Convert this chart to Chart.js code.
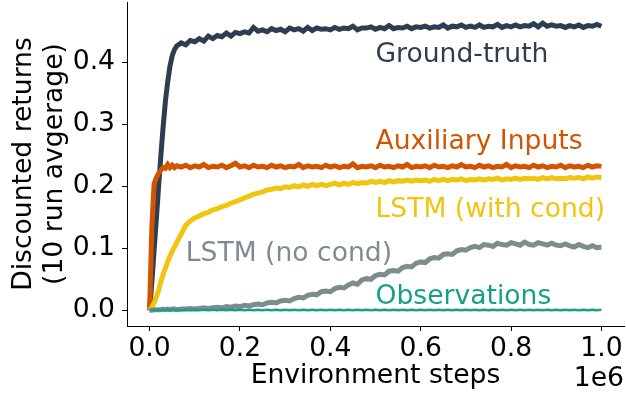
<!DOCTYPE html>
<html>
<head>
<meta charset="utf-8">
<script src="https://cdn.jsdelivr.net/npm/chart.js@4.4.0/dist/chart.umd.min.js"></script>
<style>
  html, body { margin: 0; padding: 0; background: #fff; }
  canvas { display: block; }
</style>
</head>
<body>
<canvas id="returnsChart" width="626" height="398"></canvas>
<script>
// Environment steps, in thousands
const stepsK = [
    0, 5, 10, 15, 20, 25, 30, 35, 40, 45, 50, 55, 60,
    70, 80, 90, 100, 110, 120, 130, 140, 150, 160, 170, 180, 190, 200,
    210, 220, 230, 240, 250, 260, 270, 280, 290, 300,
    310, 320, 330, 340, 350, 360, 370, 380, 390, 400,
    410, 420, 430, 440, 450, 460, 470, 480, 490, 500,
    510, 520, 530, 540, 550, 560, 570, 580, 590, 600,
    610, 620, 630, 640, 650, 660, 670, 680, 690, 700,
    710, 720, 730, 740, 750, 760, 770, 780, 790, 800,
    810, 820, 830, 840, 850, 860, 870, 880, 890, 900,
    910, 920, 930, 940, 950, 960, 970, 980, 990, 1000
];

const groundTruth = [
    0.000, 0.045, 0.097, 0.148, 0.200, 0.250, 0.296, 0.337, 0.368, 0.393, 0.410, 0.420, 0.426,
    0.431, 0.428, 0.435, 0.433, 0.438, 0.434, 0.442, 0.438, 0.443, 0.441, 0.447, 0.442, 0.448, 0.446,
    0.449, 0.447, 0.456, 0.450, 0.452, 0.449, 0.454, 0.451, 0.453, 0.449,
    0.455, 0.452, 0.454, 0.450, 0.456, 0.451, 0.455, 0.453, 0.454, 0.452,
    0.456, 0.453, 0.455, 0.454, 0.458, 0.452, 0.455, 0.455, 0.457, 0.453,
    0.456, 0.454, 0.459, 0.454, 0.456, 0.455, 0.458, 0.454, 0.457, 0.456,
    0.458, 0.455, 0.457, 0.456, 0.460, 0.455, 0.458, 0.457, 0.460, 0.456,
    0.458, 0.456, 0.460, 0.456, 0.458, 0.457, 0.461, 0.456, 0.459, 0.457,
    0.460, 0.457, 0.459, 0.458, 0.462, 0.457, 0.463, 0.458, 0.460, 0.458,
    0.459, 0.456, 0.459, 0.457, 0.460, 0.456, 0.459, 0.458, 0.461, 0.458
];

const auxiliaryInputs = [
    0.000, 0.135, 0.204, 0.214, 0.221, 0.226, 0.230, 0.229, 0.235, 0.230, 0.234, 0.230, 0.233,
    0.231, 0.234, 0.230, 0.233, 0.231, 0.235, 0.230, 0.232, 0.231, 0.234, 0.230, 0.233, 0.237, 0.231,
    0.233, 0.230, 0.234, 0.231, 0.232, 0.230, 0.234, 0.231, 0.233, 0.230,
    0.232, 0.231, 0.235, 0.230, 0.233, 0.231, 0.232, 0.230, 0.234, 0.231,
    0.233, 0.230, 0.232, 0.231, 0.236, 0.230, 0.232, 0.231, 0.233, 0.230,
    0.234, 0.231, 0.232, 0.230, 0.233, 0.231, 0.235, 0.230, 0.232, 0.231,
    0.233, 0.230, 0.234, 0.231, 0.232, 0.230, 0.233, 0.231, 0.235, 0.231,
    0.232, 0.230, 0.234, 0.231, 0.233, 0.230, 0.232, 0.231, 0.235, 0.230,
    0.233, 0.231, 0.232, 0.230, 0.234, 0.231, 0.233, 0.230, 0.232, 0.231,
    0.234, 0.230, 0.233, 0.231, 0.232, 0.230, 0.234, 0.231, 0.233, 0.232
];

const lstmWithCond = [
    0.000, 0.005, 0.012, 0.022, 0.032, 0.046, 0.058, 0.068, 0.078, 0.087, 0.095, 0.102, 0.109,
    0.123, 0.137, 0.144, 0.149, 0.152, 0.156, 0.158, 0.162, 0.164, 0.167, 0.169, 0.173, 0.175, 0.178,
    0.181, 0.184, 0.187, 0.189, 0.191, 0.194, 0.195, 0.197, 0.196, 0.199,
    0.198, 0.201, 0.199, 0.202, 0.200, 0.203, 0.201, 0.203, 0.201, 0.203,
    0.205, 0.202, 0.205, 0.203, 0.206, 0.204, 0.206, 0.205, 0.208, 0.206,
    0.208, 0.206, 0.209, 0.207, 0.209, 0.208, 0.210, 0.208, 0.210, 0.209,
    0.210, 0.208, 0.211, 0.209, 0.211, 0.209, 0.211, 0.210, 0.212, 0.209,
    0.211, 0.210, 0.212, 0.210, 0.212, 0.211, 0.213, 0.210, 0.212, 0.211,
    0.213, 0.211, 0.213, 0.212, 0.213, 0.211, 0.214, 0.212, 0.214, 0.212,
    0.213, 0.212, 0.214, 0.213, 0.214, 0.212, 0.215, 0.213, 0.215, 0.214
];

const lstmNoCond = [
    0.000, 0.000, 0.001, 0.001, 0.001, 0.001, 0.002, 0.001, 0.002, 0.001, 0.002, 0.002, 0.001,
    0.002, 0.002, 0.003, 0.002, 0.003, 0.004, 0.003, 0.004, 0.005, 0.004, 0.006, 0.005, 0.007, 0.006,
    0.008, 0.007, 0.009, 0.010, 0.009, 0.012, 0.013, 0.012, 0.015, 0.016,
    0.015, 0.019, 0.021, 0.020, 0.024, 0.026, 0.025, 0.030, 0.031, 0.030,
    0.035, 0.037, 0.036, 0.041, 0.044, 0.042, 0.049, 0.051, 0.050, 0.056,
    0.058, 0.057, 0.063, 0.064, 0.063, 0.069, 0.071, 0.070, 0.076, 0.078,
    0.077, 0.083, 0.085, 0.084, 0.090, 0.091, 0.090, 0.096, 0.098, 0.097,
    0.101, 0.103, 0.101, 0.106, 0.105, 0.103, 0.108, 0.106, 0.105, 0.109,
    0.107, 0.105, 0.110, 0.106, 0.105, 0.109, 0.107, 0.105, 0.108, 0.105,
    0.104, 0.107, 0.104, 0.102, 0.106, 0.103, 0.101, 0.104, 0.101, 0.102
];

const observations = [
    0.000, 0.000, 0.001, 0.000, 0.001, 0.000, 0.001, 0.000, 0.001, 0.000, 0.001, 0.000, 0.001,
    0.000, 0.001, 0.000, 0.001, 0.000, 0.001, 0.000, 0.001, 0.000, 0.001, 0.000, 0.001, 0.000, 0.001,
    0.000, 0.001, 0.000, 0.001, 0.000, 0.001, 0.000, 0.001, 0.000, 0.001,
    0.000, 0.001, 0.000, 0.001, 0.000, 0.001, 0.000, 0.001, 0.000, 0.001,
    0.000, 0.001, 0.000, 0.001, 0.000, 0.001, 0.000, 0.001, 0.000, 0.001,
    0.000, 0.001, 0.000, 0.001, 0.000, 0.001, 0.000, 0.001, 0.000, 0.001,
    0.000, 0.001, 0.000, 0.001, 0.000, 0.001, 0.000, 0.001, 0.000, 0.001,
    0.000, 0.001, 0.000, 0.001, 0.000, 0.001, 0.000, 0.001, 0.000, 0.001,
    0.000, 0.001, 0.000, 0.001, 0.000, 0.001, 0.000, 0.001, 0.000, 0.001,
    0.000, 0.001, 0.000, 0.001, 0.000, 0.001, 0.000, 0.001, 0.000, 0.001
];

const seriesNames = ['Ground-truth', 'Auxiliary Inputs', 'LSTM (with cond)', 'LSTM (no cond)', 'Observations'];
const xTicks = [0, 200, 400, 600, 800, 1000];
const yTicks = [0, 0.1, 0.2, 0.3, 0.4];

// Color scheme
const colors = {
    groundTruth: '#2c3e50',
    auxiliary: '#d35400',
    withCond: '#f1c40f',
    noCond: '#7f8c8d',
    observations: '#16a085'
};

const FONT = 'DejaVu Sans';
const FONT_SIZE = 26.6;

Chart.defaults.font.family = FONT;
Chart.defaults.color = '#000';

const toPoints = vals => stepsK.map((s, i) => ({ x: s, y: vals[i] }));

// where each curve name is written (data units, text baseline)
const curveText = [
    { x: 500, y: 0.40, color: colors.groundTruth },
    { x: 500, y: 0.26, color: colors.auxiliary },
    { x: 500, y: 0.15, color: colors.withCond },
    { x: 80, y: 0.08, color: colors.noCond },
    { x: 500, y: 0.01, color: colors.observations }
];

const curveLabels = {
    id: 'curveLabels',
    afterDatasetsDraw(chart) {
        const { ctx, scales: { x, y } } = chart;
        ctx.save();
        ctx.font = FONT_SIZE + 'px "' + FONT + '"';
        ctx.textAlign = 'left';
        ctx.textBaseline = 'alphabetic';
        curveText.forEach((t, i) => {
            ctx.fillStyle = t.color;
            ctx.fillText(seriesNames[i], x.getPixelForValue(t.x), y.getPixelForValue(t.y));
        });
        // axis multiplier, like matplotlib's offset text
        ctx.fillStyle = '#000';
        ctx.textAlign = 'right';
        ctx.fillText('1e6', x.right, 386);
        ctx.restore();
    }
};

// stop Chart.js reserving room for half tick labels at the axis ends
const noEndPadding = s => {
    s.paddingTop = 0;
    s.paddingBottom = 0;
    s.paddingLeft = 0;
    s.paddingRight = 0;
};

document.addEventListener('DOMContentLoaded', function () {
    const line = (label, vals, color, width) => ({
        label: label,
        data: toPoints(vals),
        borderColor: color,
        borderWidth: width,
        pointRadius: 0,
        tension: 0,
        fill: false
    });

    new Chart(document.getElementById('returnsChart'), {
        type: 'line',
        data: {
            datasets: [
                line(seriesNames[4], observations, colors.observations, 2.5),
                line(seriesNames[3], lstmNoCond, colors.noCond, 5),
                line(seriesNames[2], lstmWithCond, colors.withCond, 5),
                line(seriesNames[1], auxiliaryInputs, colors.auxiliary, 5),
                line(seriesNames[0], groundTruth, colors.groundTruth, 5)
            ]
        },
        options: {
            responsive: false,
            animation: false,
            devicePixelRatio: 1,
            layout: { padding: { top: 2, right: 2, left: 0, bottom: 0 } },
            plugins: {
                legend: { display: false },
                tooltip: { enabled: false }
            },
            scales: {
                x: {
                    type: 'linear',
                    min: -50,
                    max: 1050,
                    afterBuildTicks: s => { s.ticks = xTicks.map(v => ({ value: v })); },
                    afterFit: s => { s.height = 72; noEndPadding(s); },
                    ticks: {
                        callback: v => (v / 1000).toFixed(1),
                        font: { size: FONT_SIZE },
                        color: '#000',
                        padding: 2,
                        maxRotation: 0,
                        autoSkip: false
                    },
                    grid: { drawOnChartArea: false, drawTicks: true, tickLength: 5, color: '#000' },
                    border: { display: true, color: '#000', width: 1 },
                    title: {
                        display: true,
                        text: 'Environment steps',
                        font: { size: FONT_SIZE },
                        color: '#000',
                        padding: { top: 0, bottom: 6 }
                    }
                },
                y: {
                    type: 'linear',
                    min: -0.0253,
                    max: 0.497,
                    afterBuildTicks: s => { s.ticks = yTicks.map(v => ({ value: v })); },
                    afterFit: s => { s.width = 127; noEndPadding(s); },
                    ticks: {
                        callback: v => v.toFixed(1),
                        font: { size: FONT_SIZE },
                        color: '#000',
                        padding: 7
                    },
                    grid: { drawOnChartArea: false, drawTicks: true, tickLength: 5, color: '#000' },
                    border: { display: true, color: '#000', width: 1 },
                    title: {
                        display: true,
                        text: ['Discounted returns', '(10 run avgerage)'],
                        font: { size: FONT_SIZE, lineHeight: 1.15 },
                        color: '#000',
                        padding: { top: 9, bottom: 0 }
                    }
                }
            }
        },
        plugins: [curveLabels]
    });
});
</script>
</body>
</html>
